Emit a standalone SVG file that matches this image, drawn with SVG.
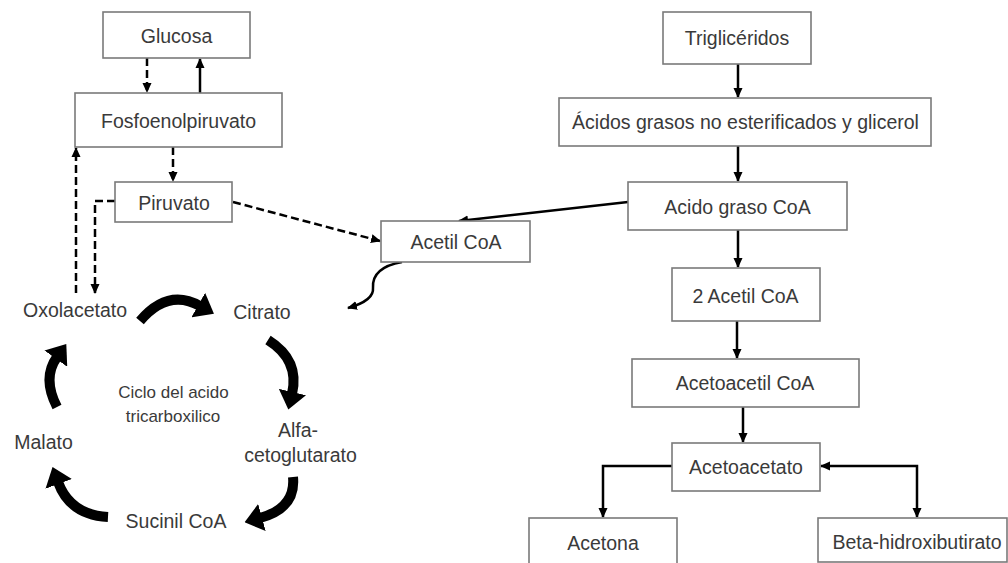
<svg xmlns="http://www.w3.org/2000/svg" width="1008" height="563" viewBox="0 0 1008 563">
<style>
.box{fill:#fff;stroke:#7a7a7a;stroke-width:1.6}
.t{font-family:"Liberation Sans",Arial,sans-serif;font-size:19.5px;fill:#3a3a3a;text-anchor:middle}
.ts{font-family:"Liberation Sans",Arial,sans-serif;font-size:17px;fill:#3a3a3a;text-anchor:middle}
.solid{fill:none;stroke:#000;stroke-width:2.5}
.dash{fill:none;stroke:#000;stroke-width:2.5;stroke-dasharray:8 4}
.thick{fill:none;stroke:#000;stroke-width:10}
</style>
<defs>
<marker id="ah" markerUnits="userSpaceOnUse" markerWidth="10" markerHeight="10" viewBox="0 0 10 10" refX="9" refY="5" orient="auto-start-reverse">
<path d="M0,0.5 L10,5 L0,9.5 z" fill="#000"/>
</marker>
<marker id="big" markerUnits="userSpaceOnUse" markerWidth="18" markerHeight="28" viewBox="0 0 18 28" refX="2" refY="14" orient="auto">
<path d="M0,0 L18,14 L0,28 z" fill="#000"/>
</marker>
</defs>
<g id="connectors">
<path class="dash" d="M147,58 L147,92" marker-end="url(#ah)"/>
<path class="solid" d="M200,93 L200,59" marker-end="url(#ah)"/>
<path class="dash" d="M173,147 L173,181" marker-end="url(#ah)"/>
<path class="dash" d="M76,293 L76,148" marker-end="url(#ah)"/>
<path class="dash" d="M115,201 L95,201 L95,293" marker-end="url(#ah)"/>
<path class="dash" d="M233,202 L380,241" marker-end="url(#ah)"/>
<path class="solid" d="M628,202 L459,221" marker-end="url(#ah)"/>
<path class="solid" d="M402,262 C380,266 372,275 373,288 C374,298 362,304 348,308" marker-end="url(#ah)"/>
<path class="solid" d="M738,64 L738,97" marker-end="url(#ah)"/>
<path class="solid" d="M738,146 L738,181" marker-end="url(#ah)"/>
<path class="solid" d="M738,230 L738,267" marker-end="url(#ah)"/>
<path class="solid" d="M737,321 L737,358" marker-end="url(#ah)"/>
<path class="solid" d="M743,407 L743,442" marker-end="url(#ah)"/>
<path class="solid" d="M672,466 L603,466 L603,517" marker-end="url(#ah)"/>
<path class="solid" d="M917,517 L917,466 L821,466" marker-start="url(#ah)" marker-end="url(#ah)"/>
<path class="thick" d="M140,321 Q168,288 200,306" marker-end="url(#big)"/>
<path class="thick" d="M268,340 Q300,360 292,394" marker-end="url(#big)"/>
<path class="thick" d="M293,477 Q296,508 260,518" marker-end="url(#big)"/>
<path class="thick" d="M108,517 Q70,515 58,482" marker-end="url(#big)"/>
<path class="thick" d="M57,407 Q42,378 57,357" marker-end="url(#big)"/>
</g>
<g id="glucosa"><rect class="box" x="103" y="12" width="147" height="46"/><text class="t" x="176.5" y="43">Glucosa</text></g>
<g id="fosfoenolpiruvato"><rect class="box" x="75" y="93" width="207" height="54"/><text class="t" x="178.5" y="128">Fosfoenolpiruvato</text></g>
<g id="piruvato"><rect class="box" x="115" y="182" width="117" height="40"/><text class="t" x="174" y="210">Piruvato</text></g>
<g id="acetilcoa"><rect class="box" x="381" y="221" width="149" height="41"/><text class="t" x="456" y="249">Acetil CoA</text></g>
<g id="trigliceridos"><rect class="box" x="663" y="12" width="148" height="52"/><text class="t" x="737" y="45">Triglicéridos</text></g>
<g id="acidosgrasos"><rect class="box" x="559" y="98" width="372" height="48"/><text class="t" x="745.5" y="129">Ácidos grasos no esterificados y glicerol</text></g>
<g id="acidograsocoa"><rect class="box" x="628" y="182" width="219" height="48"/><text class="t" x="737.5" y="214">Acido graso CoA</text></g>
<g id="dosacetilcoa"><rect class="box" x="672" y="268" width="148" height="53"/><text class="t" x="745.5" y="303">2 Acetil CoA</text></g>
<g id="acetoacetilcoa"><rect class="box" x="632" y="359" width="227" height="48"/><text class="t" x="745" y="390">Acetoacetil CoA</text></g>
<g id="acetoacetato"><rect class="box" x="672" y="443" width="148" height="48"/><text class="t" x="746" y="474">Acetoacetato</text></g>
<g id="acetona"><rect class="box" x="529" y="518" width="148" height="50"/><text class="t" x="603" y="550">Acetona</text></g>
<g id="betahidroxibutirato"><rect class="box" x="818" y="518" width="189" height="44"/><text class="t" x="917" y="549">Beta-hidroxibutirato</text></g>
<g id="oxolacetato"><text class="t" x="75" y="317">Oxolacetato</text></g>
<g id="citrato"><text class="t" x="262" y="319">Citrato</text></g>
<g id="alfacetoglutarato"><text class="t" x="298" y="437">Alfa-</text><text class="t" x="300.5" y="462">cetoglutarato</text></g>
<g id="sucinilcoa"><text class="t" x="176" y="528">Sucinil CoA</text></g>
<g id="malato"><text class="t" x="43.5" y="449">Malato</text></g>
<g id="ciclo"><text class="ts" x="173.5" y="398">Ciclo del acido</text><text class="ts" x="173" y="422">tricarboxilico</text></g>
</svg>
